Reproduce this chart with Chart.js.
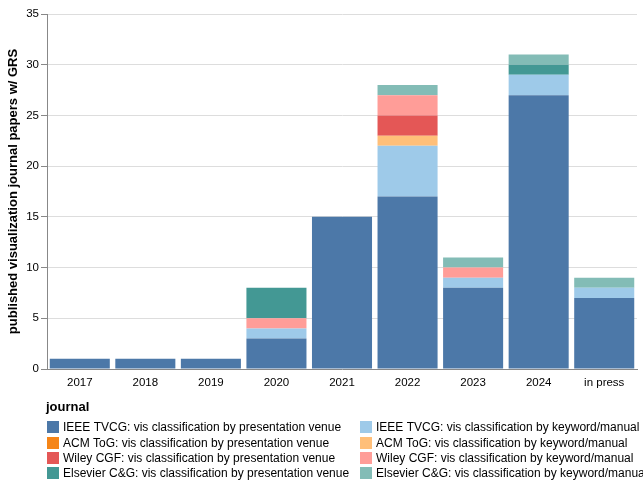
<!DOCTYPE html>
<html>
<head>
<meta charset="utf-8">
<script src="https://cdn.jsdelivr.net/npm/chart.js@4"></script>
<style>
html,body{margin:0;padding:0;background:#fff;}
#wrap{position:relative;width:643px;height:480px;}
</style>
</head>
<body>
<div id="wrap"><canvas id="c" width="643" height="480"></canvas></div>
<script>
const categories = ["2017","2018","2019","2020","2021","2022","2023","2024","in press"];
const seriesNames = [
  "IEEE TVCG: vis classification by presentation venue",
  "IEEE TVCG: vis classification by keyword/manual",
  "ACM ToG: vis classification by presentation venue",
  "ACM ToG: vis classification by keyword/manual",
  "Wiley CGF: vis classification by presentation venue",
  "Wiley CGF: vis classification by keyword/manual",
  "Elsevier C&G: vis classification by presentation venue",
  "Elsevier C&G: vis classification by keyword/manual"
];
const tvcgVenue    = [1, 1, 1, 3, 15, 17, 8, 27, 7];
const tvcgKeyword  = [0, 0, 0, 1, 0, 5, 1, 2, 1];
const acmVenue     = [0, 0, 0, 0, 0, 0, 0, 0, 0];
const acmKeyword   = [0, 0, 0, 0, 0, 1, 0, 0, 0];
const wileyVenue   = [0, 0, 0, 0, 0, 2, 0, 0, 0];
const wileyKeyword = [0, 0, 0, 1, 0, 2, 1, 0, 0];
const cgVenue      = [0, 0, 0, 3, 0, 0, 0, 1, 0];
const cgKeyword    = [0, 0, 0, 0, 0, 1, 1, 1, 1];
const yTicks = [0, 5, 10, 15, 20, 25, 30, 35];

const seriesValues = [tvcgVenue, tvcgKeyword, acmVenue, acmKeyword, wileyVenue, wileyKeyword, cgVenue, cgKeyword];
const colors = ["#4c78a8","#9ecae9","#f58518","#ffbf79","#e45756","#ff9d98","#439894","#83bcb6"];
const FONT = "'Liberation Sans', Arial, sans-serif";

const legendPlugin = {
  id: 'vegaLegend',
  afterDraw(chart) {
    const ctx = chart.ctx;
    ctx.save();
    ctx.fillStyle = '#000';
    ctx.font = "bold 13px " + FONT;
    ctx.textBaseline = 'middle';
    ctx.textAlign = 'left';
    ctx.fillText('journal', 46, 407);
    ctx.font = "12px " + FONT;
    const rowY = [427, 443, 458, 473];
    const colX = [47, 360];
    seriesNames.forEach((name, i) => {
      const col = i % 2, row = Math.floor(i / 2);
      const x = colX[col], y = rowY[row];
      ctx.fillStyle = colors[i];
      ctx.fillRect(x, y - 6, 12, 12);
      ctx.fillStyle = '#000';
      ctx.fillText(name, x + 16, y + 0.5);
    });
    ctx.restore();
  }
};

new Chart(document.getElementById('c'), {
  type: 'bar',
  data: {
    labels: categories,
    datasets: seriesNames.map((n, i) => ({
      label: n,
      data: seriesValues[i],
      backgroundColor: colors[i],
      borderWidth: 0,
      categoryPercentage: 1.0,
      barPercentage: 0.916
    }))
  },
  options: {
    responsive: false,
    animation: false,
    devicePixelRatio: 1,
    layout: { padding: { left: 0, right: 6, top: 14, bottom: 0 } },
    plugins: { legend: { display: false }, tooltip: { enabled: false } },
    scales: {
      x: {
        stacked: true,
        grid: { display: false, drawTicks: false },
        border: { color: '#888', width: 1 },
        ticks: { color: '#000', font: { family: FONT, size: 11.5 }, padding: 7, maxRotation: 0 },
        afterFit(scale) { scale.height = 111; }
      },
      y: {
        stacked: true,
        min: 0, max: 35,
        afterBuildTicks(scale) { scale.ticks = yTicks.map(v => ({ value: v })); },
        grid: { color: '#ddd', tickColor: '#888', tickLength: 6, drawTicks: true },
        border: { color: '#888', width: 1 },
        ticks: { color: '#000', font: { family: FONT, size: 11.5 }, padding: 2 },
        title: { display: true, text: 'published visualization journal papers w/ GRS', color: '#000', font: { family: FONT, size: 13, weight: 'bold' }, padding: { top: 6, bottom: 0 } },
        afterFit(scale) { scale.width = 47; }
      }
    }
  },
  plugins: [legendPlugin]
});
</script>
</body>
</html>
